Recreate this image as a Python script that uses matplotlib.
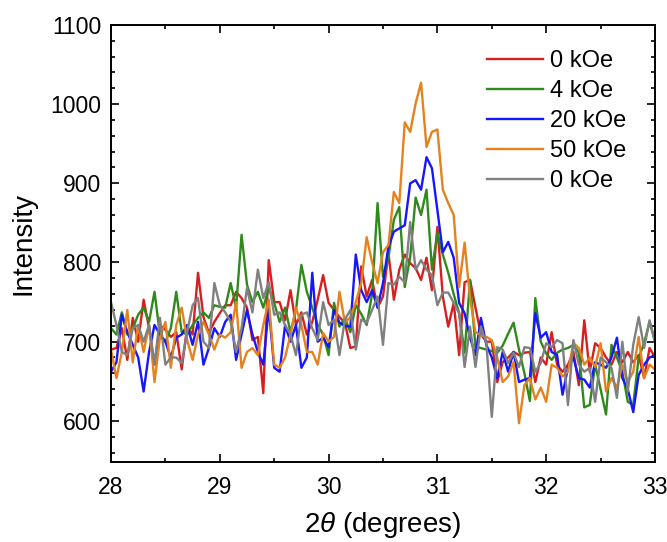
import numpy as np
import matplotlib
matplotlib.use("Agg")
import matplotlib.pyplot as plt
from matplotlib.ticker import MultipleLocator

plt.rcParams['font.family'] = ['Liberation Sans', 'DejaVu Sans']
plt.rcParams['mathtext.fontset'] = 'custom'
plt.rcParams['mathtext.it'] = 'Liberation Sans:italic'
plt.rcParams['mathtext.rm'] = 'Liberation Sans'

# 2-theta step scan, 28 -> 33 deg, 0.05 deg step
two_theta = np.linspace(28, 33, 101)

red_0koe = [690, 692, 717, 677, 730, 700, 753, 717, 671, 721,
            715, 706, 712, 665, 719, 709, 787, 731, 711, 725,
            736, 746, 746, 763, 755, 743, 702, 706, 635, 803,
            750, 750, 727, 765, 721, 737, 709, 725, 753, 784,
            749, 740, 731, 724, 692, 694, 795, 757, 778, 743,
            757, 812, 753, 791, 810, 799, 793, 778, 806, 765,
            845, 757, 719, 749, 683, 775, 778, 743, 709, 700,
            700, 649, 674, 680, 687, 683, 686, 687, 649, 680,
            671, 712, 671, 662, 671, 687, 645, 727, 662, 698,
            692, 680, 671, 687, 674, 687, 674, 683, 654, 692,
            680]

green_4koe = [717, 709, 737, 709, 717, 734, 743, 725, 763, 709,
              700, 717, 763, 712, 709, 721, 730, 737, 730, 746,
              744, 743, 774, 743, 835, 772, 750, 763, 743, 768,
              749, 725, 743, 712, 740, 797, 763, 743, 721, 709,
              683, 749, 719, 730, 712, 746, 735, 721, 760, 875,
              782, 806, 854, 870, 769, 807, 882, 860, 892, 791,
              837, 810, 787, 760, 736, 686, 778, 693, 692, 690,
              688, 686, 695, 710, 724, 690, 660, 625, 755, 700,
              685, 677, 686, 690, 692, 696, 686, 617, 620, 671,
              640, 608, 696, 680, 662, 624, 620, 680, 698, 725,
              700]

blue_20koe = [662, 674, 734, 712, 696, 680, 637, 687, 721, 709,
              700, 680, 705, 709, 721, 696, 725, 671, 692, 717,
              706, 725, 734, 677, 709, 740, 709, 687, 671, 743,
              667, 662, 721, 700, 721, 667, 680, 787, 700, 705,
              693, 740, 724, 720, 719, 810, 765, 750, 765, 743,
              774, 820, 839, 843, 847, 900, 904, 892, 933, 919,
              866, 813, 826, 806, 749, 736, 705, 683, 730, 696,
              680, 654, 687, 662, 687, 649, 652, 654, 736, 705,
              712, 687, 683, 633, 667, 680, 654, 652, 642, 674,
              671, 667, 680, 705, 654, 640, 611, 658, 671, 680,
              683]

orange_50koe = [690, 654, 687, 740, 674, 721, 687, 721, 649, 705,
                725, 667, 721, 743, 702, 677, 709, 725, 709, 690,
                709, 705, 712, 750, 667, 687, 692, 683, 721, 753,
                671, 667, 680, 709, 743, 721, 687, 687, 671, 711,
                700, 706, 763, 724, 731, 750, 774, 832, 800, 774,
                813, 822, 889, 875, 977, 965, 1001, 1027, 946, 965,
                968, 892, 875, 860, 769, 825, 755, 712, 708, 706,
                702, 680, 649, 656, 674, 597, 645, 654, 627, 642,
                624, 671, 667, 656, 662, 698, 692, 671, 680, 668,
                698, 637, 654, 642, 671, 649, 662, 706, 654, 671,
                665]

gray_0koe = [750, 721, 687, 683, 717, 721, 700, 721, 671, 730,
             671, 680, 680, 673, 712, 746, 755, 700, 692, 774,
             746, 737, 725, 687, 717, 768, 737, 791, 755, 775,
             734, 737, 721, 709, 683, 734, 737, 717, 702, 750,
             721, 728, 683, 728, 740, 690, 728, 724, 740, 757,
             696, 774, 772, 782, 775, 851, 791, 803, 791, 784,
             746, 762, 762, 749, 736, 668, 719, 668, 719, 698,
             605, 693, 690, 673, 686, 668, 693, 692, 662, 673,
             698, 693, 702, 698, 620, 702, 671, 662, 667, 624,
             680, 674, 667, 629, 700, 637, 696, 731, 692, 727,
             700]

series = [
    ("0 kOe", red_0koe, "#d81e1e"),
    ("4 kOe", green_4koe, "#2f8a1c"),
    ("20 kOe", blue_20koe, "#1616ff"),
    ("50 kOe", orange_50koe, "#e6821e"),
    ("0 kOe", gray_0koe, "#808080"),
]

fig = plt.figure(figsize=(6.67, 5.42), dpi=100)
ax = fig.add_axes([0.1664, 0.1476, 0.8156, 0.8063])

for label, vals, color in series:
    ax.plot(two_theta, vals, color=color, lw=1.7, label=label)

ax.set_xlim(28, 33)
ax.set_ylim(548, 1100)
ax.xaxis.set_major_locator(MultipleLocator(1))
ax.xaxis.set_minor_locator(MultipleLocator(0.5))
ax.yaxis.set_major_locator(MultipleLocator(100))
ax.yaxis.set_minor_locator(MultipleLocator(20))
ax.tick_params(which='both', direction='in', top=True, right=True, width=1.2)
ax.tick_params(which='major', length=6, labelsize=16.5)
ax.tick_params(axis='y', which='major', pad=7)
ax.tick_params(axis='x', which='major', pad=10)
ax.tick_params(which='minor', length=3)
for sp in ax.spines.values():
    sp.set_linewidth(1.4)

ax.set_xlabel(r"2$\theta$ (degrees)", fontsize=20, labelpad=8)
ax.set_ylabel("Intensity", fontsize=20, labelpad=10)

ax.legend(loc='upper left', bbox_to_anchor=(487 / 667, 1 - 50 / 542),
          bbox_transform=fig.transFigure, frameon=False, fontsize=17,
          handlelength=2.37, handletextpad=0.3, labelspacing=0.34,
          borderpad=0, borderaxespad=0)

plt.savefig("out.png", dpi=100)
plt.close()
